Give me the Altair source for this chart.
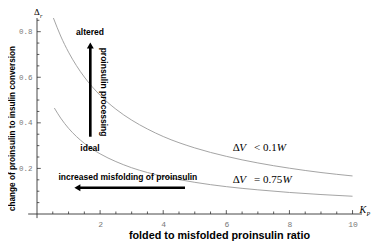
import altair as alt
import pandas as pd

# ---- data ----
upper_x = [0.52, 0.75, 1.0, 1.25, 1.5, 2.0, 2.5, 3.0, 3.5, 4.0, 5.0, 6.0, 7.0, 8.0, 9.0, 10.0]
upper_y = [0.860, 0.781, 0.710, 0.651, 0.601, 0.521, 0.460, 0.412, 0.373, 0.340, 0.290, 0.253, 0.224, 0.201, 0.182, 0.167]
lower_x = [0.55, 0.75, 1.0, 1.25, 1.5, 2.0, 2.5, 3.0, 3.5, 4.0, 5.0, 6.0, 7.0, 8.0, 9.0, 10.0]
lower_y = [0.465, 0.421, 0.376, 0.340, 0.310, 0.264, 0.230, 0.203, 0.182, 0.165, 0.139, 0.120, 0.106, 0.0945, 0.0854, 0.0779]

x_labels = [2, 4, 6, 8, 10]
y_labels = [0.2, 0.4, 0.6, 0.8]
x_minor = [0.5, 1.0, 1.5, 2.0, 2.5, 3.0, 3.5, 4.0, 4.5, 5.0, 5.5, 6.0, 6.5, 7.0, 7.5, 8.0, 8.5, 9.0, 9.5, 10.0]
y_minor = [0.05, 0.1, 0.15, 0.2, 0.25, 0.3, 0.35, 0.4, 0.45, 0.5, 0.55, 0.6, 0.65, 0.7, 0.75, 0.8, 0.85]

x_title = "folded to misfolded proinsulin ratio"
y_title = "change of proinsulin to insulin conversion"

XD = [0, 10.3]
YD = [0, 0.86]
xs = alt.Scale(domain=XD, nice=False, zero=False)
ys = alt.Scale(domain=YD, nice=False, zero=False)

X_AXIS = alt.Axis(
    values=x_labels, ticks=False, domain=False, grid=False,
    labelFont="Liberation Mono", labelFontSize=8, labelColor="#7a7a7a", labelPadding=6,
    title=x_title, titleFont="Liberation Sans", titleFontWeight="bold", titleFontSize=10.8,
    titleColor="black", titleX=182, titleY=21, titleBaseline="middle", titleAlign="center")
Y_AXIS = alt.Axis(
    values=y_labels, format=".1f", ticks=False, domain=False, grid=False,
    labelFont="Liberation Mono", labelFontSize=7.5, labelColor="#7a7a7a", labelPadding=5,
    title=y_title, titleFont="Liberation Sans", titleFontWeight="bold", titleFontSize=8.2,
    titleColor="black", titleX=-25, titleY=110, titleAngle=270, titleBaseline="middle",
    titleAlign="center")


def X(field="x:Q"):
    return alt.X(field, scale=xs, axis=X_AXIS)


def Y(field="y:Q"):
    return alt.Y(field, scale=ys, axis=Y_AXIS)


curves_df = pd.DataFrame(
    {"x": upper_x + lower_x, "y": upper_y + lower_y,
     "s": ["upper"] * len(upper_x) + ["lower"] * len(lower_x)}
)

curves = alt.Chart(curves_df).mark_line(color="#9a9a9a", strokeWidth=0.9, interpolate="monotone").encode(
    x=X(), y=Y(), detail="s:N")

# axis lines
axes_df = pd.DataFrame({"x": [-0.28, 0.0], "x2": [10.3, 0.0], "y": [0.0, -0.018], "y2": [0.0, 0.86]})
axes = alt.Chart(axes_df).mark_rule(color="#333333", strokeWidth=0.9).encode(
    x=X(), x2="x2:Q", y=Y(), y2="y2:Q")

# ticks (inward)
xt = pd.DataFrame({"x": x_minor, "y": [0.0] * len(x_minor),
                   "y2": [0.017 if v in x_labels else 0.011 for v in x_minor]})
xticks = alt.Chart(xt).mark_rule(color="#333333", strokeWidth=0.8).encode(
    x=X(), y=Y(), y2="y2:Q")
yt = pd.DataFrame({"y": y_minor, "x": [0.0] * len(y_minor),
                   "x2": [0.12 if round(v, 2) in y_labels else 0.075 for v in y_minor]})
yticks = alt.Chart(yt).mark_rule(color="#333333", strokeWidth=0.8).encode(
    x=X(), x2="x2:Q", y=Y())

# arrows
shaft_df = pd.DataFrame({"x": [1.69, 1.30], "x2": [1.69, 4.69], "y": [0.339, 0.115], "y2": [0.73, 0.115]})
shafts = alt.Chart(shaft_df).mark_rule(color="black", strokeWidth=2.6).encode(
    x=X(), x2="x2:Q", y=Y(), y2="y2:Q")
head_up = alt.Chart(pd.DataFrame({"x": [1.69], "y": [0.739]})).mark_point(
    shape="triangle-up", filled=True, color="black", size=48, opacity=1).encode(x=X(), y=Y())
head_left = alt.Chart(pd.DataFrame({"x": [1.28], "y": [0.115]})).mark_point(
    shape="triangle-left", filled=True, color="black", size=48, opacity=1).encode(x=X(), y=Y())


def label(texts, xs_, ys_, **kw):
    df = pd.DataFrame({"t": texts, "x": xs_, "y": ys_})
    return alt.Chart(df).mark_text(**kw).encode(x=X(), y=Y(), text="t:N")


sans = dict(font="Liberation Sans", fontWeight="bold", fontSize=8.5, color="black", baseline="middle")
t_bold = label(["altered", "ideal", "increased misfolding of proinsulin"],
               [1.68, 1.68, 2.88], [0.799, 0.29, 0.162], align="center", **sans)
t_rot = label(["proinsulin processing"], [2.12], [0.535], align="center", angle=90, **sans)

serif = dict(font="Liberation Serif", fontSize=11, color="black", baseline="middle", align="left")
t_delta = label(["Δ", "Δ"], [6.2, 6.2], [0.288, 0.147], **serif)
t_vw = label(["V", "V", "W", "W"], [6.41, 6.41, 7.6, 7.78], [0.288, 0.147, 0.288, 0.147],
             fontStyle="italic", **serif)
t_rel = label(["< 0.1", "= 0.75"], [6.88, 6.88], [0.288, 0.147], **serif)

t_dr = label(["Δ"], [0.0], [0.886], font="Liberation Serif", fontSize=9, color="black",
             baseline="middle", align="center")
t_r = label(["r"], [0.13], [0.869], font="Liberation Serif", fontSize=6, fontStyle="italic",
            color="black", baseline="middle", align="center")
t_k = label(["K"], [10.33], [0.018], font="Liberation Serif", fontSize=10, fontStyle="italic",
            color="black", baseline="middle", align="center")
t_p = label(["P"], [10.5], [0.0], font="Liberation Serif", fontSize=6, fontStyle="italic",
            color="black", baseline="middle", align="center")

chart = alt.layer(
    curves, axes, xticks, yticks, shafts, head_up, head_left,
    t_bold, t_rot, t_delta, t_vw, t_rel, t_dr, t_r, t_k, t_p
).properties(
    width=325, height=196,
    padding={"left": 29, "top": 10, "right": 10, "bottom": 27},
    autosize=alt.AutoSizeParams(type="none"),
    background="white",
).configure_view(stroke=None)

chart.save("out.html", embed_options={"renderer": "svg", "actions": False})
